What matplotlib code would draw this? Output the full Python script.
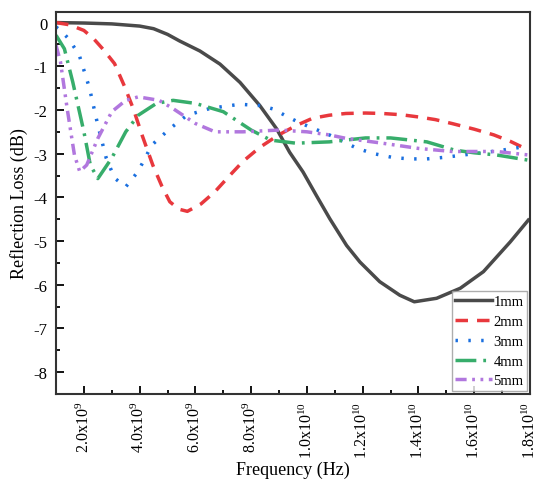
import matplotlib
matplotlib.use("Agg")
import matplotlib.pyplot as plt
import numpy as np
from matplotlib.ticker import MultipleLocator, FixedLocator

plt.rcParams['font.family'] = ['Liberation Serif', 'DejaVu Serif']
plt.rcParams['mathtext.fontset'] = 'custom'
plt.rcParams['mathtext.rm'] = 'Liberation Serif'
plt.rcParams['mathtext.it'] = 'Liberation Serif:italic'
plt.rcParams['axes.unicode_minus'] = False

# Frequency in GHz
f1 = [1.0, 2.0, 3.0, 4.0, 4.5, 5.0, 5.43, 6.16, 6.88, 7.6, 8.31, 8.91, 9.38, 9.86, 10.34,
      10.82, 11.42, 11.9, 12.61, 13.33, 13.85, 14.65, 15.5, 16.33, 17.29, 17.94]
rl1 = [0.0, -0.01, -0.03, -0.08, -0.14, -0.27, -0.42, -0.65, -0.95, -1.37, -1.90, -2.43,
       -2.97, -3.42, -3.96, -4.49, -5.10, -5.48, -5.93, -6.24, -6.39, -6.31, -6.08, -5.70,
       -5.02, -4.52]

f2 = [1.0, 1.48, 2.0, 2.35, 2.7, 3.1, 3.45, 3.77, 4.1, 4.47, 4.8, 5.08, 5.4, 5.71, 6.2,
      6.7, 7.2, 7.7, 8.3, 8.96, 9.6, 10.2, 10.8, 11.4, 12.1, 12.7, 13.4, 14.0, 14.6, 15.2,
      16.0, 16.7, 17.3, 17.95]
rl2 = [0.0, -0.05, -0.18, -0.37, -0.62, -0.94, -1.45, -1.97, -2.6, -3.26, -3.75, -4.1, -4.27,
       -4.32, -4.15, -3.87, -3.52, -3.18, -2.86, -2.58, -2.36, -2.19, -2.12, -2.08, -2.07, -2.08,
       -2.11, -2.16, -2.22, -2.31, -2.44, -2.57, -2.72, -2.92]

f3 = [1.0, 1.2, 1.45, 1.83, 2.2, 2.5, 2.8, 3.1, 3.5, 3.94, 4.44, 5.1, 5.7, 6.5, 7.0, 7.6,
      8.35, 8.8, 9.2, 9.6, 10.1, 10.7, 11.2, 11.8, 12.4, 13.1, 13.7, 14.3, 15.0, 15.6,
      16.3, 17.0, 17.6, 17.95]
rl3 = [-0.1, -0.2, -0.37, -0.74, -1.5, -2.35, -3.1, -3.56, -3.76, -3.41, -2.8, -2.42, -2.12,
       -1.97, -1.92, -1.87, -1.9, -1.98, -2.12, -2.25, -2.39, -2.54, -2.69, -2.88, -3.0, -3.09,
       -3.12, -3.12, -3.08, -3.03, -2.98, -2.92, -2.86, -2.85]

f4 = [1.0, 1.3, 1.6, 2.0, 2.23, 2.5, 3.0, 3.5, 3.95, 4.6, 5.2, 6.0, 7.0, 8.0, 8.7, 9.6,
      10.8, 12.1, 13.0, 14.3, 15.3, 16.0, 16.8, 17.95]
rl4 = [-0.29, -0.6, -1.36, -2.5, -3.26, -3.57, -3.1, -2.5, -2.12, -1.85, -1.78, -1.85, -2.04,
       -2.46, -2.69, -2.76, -2.73, -2.64, -2.64, -2.73, -2.92, -2.98, -3.03, -3.15]

f5 = [1.0, 1.16, 1.4, 1.66, 1.85, 2.1, 2.5, 3.0, 3.5, 3.95, 4.7, 5.2, 6.0, 6.7, 7.7, 9.0,
      10.0, 10.8, 11.4, 12.7, 14.0, 15.2, 16.8, 17.95]
rl5 = [-0.52, -0.9, -1.97, -3.03, -3.41, -3.26, -2.65, -2.04, -1.78, -1.7, -1.78, -1.97,
       -2.31, -2.5, -2.5, -2.46, -2.5, -2.57, -2.65, -2.76, -2.88, -2.95, -2.95, -3.03]

labels = ['1mm', '2mm', '3mm', '4mm', '5mm']
colors = ['#4a4a4a', '#e8383d', '#1a6fdf', '#37ad6b', '#b177de']
dashes = [None, (3.6, 2.6), (0.7, 3.0), (6.0, 2.0, 0.8, 2.0), (3.2, 1.6, 0.8, 1.6, 0.8, 1.6)]

xtick_vals = [2e9, 4e9, 6e9, 8e9, 1e10, 1.2e10, 1.4e10, 1.6e10, 1.8e10]
xtick_labels = [r'2.0x10$^{9}$', r'4.0x10$^{9}$', r'6.0x10$^{9}$', r'8.0x10$^{9}$',
                r'1.0x10$^{10}$', r'1.2x10$^{10}$', r'1.4x10$^{10}$', r'1.6x10$^{10}$',
                r'1.8x10$^{10}$']

fig = plt.figure(figsize=(5.45, 4.85), dpi=100)
ax = fig.add_axes([0.1028, 0.1856, 0.8697, 0.7883])

series = [(f1, rl1), (f2, rl2), (f3, rl3), (f4, rl4), (f5, rl5)]
for (f, r), lab, c, d in zip(series, labels, colors, dashes):
    x = np.array(f) * 1e9
    line, = ax.plot(x, r, color=c, lw=2.5, label=lab)
    if d is not None:
        line.set_dashes(d)

ax.set_xlim(1e9, 1.8e10)
ax.set_ylim(-8.5, 0.25)
ax.xaxis.set_major_locator(FixedLocator(xtick_vals))
ax.set_xticklabels(xtick_labels, rotation=90, fontsize=11.5)
ax.xaxis.set_minor_locator(MultipleLocator(1e9))
ax.set_yticks(range(-8, 1))
ax.set_yticklabels([str(v) for v in range(-8, 1)], fontsize=12)
ax.yaxis.set_minor_locator(MultipleLocator(0.5))
ax.tick_params(which='both', direction='in', width=1.3, top=False, right=False)
ax.tick_params(axis='y', which='both', pad=6)
ax.tick_params(axis='x', which='both', pad=5)
ax.tick_params(which='major', length=6)
ax.tick_params(which='minor', length=3)
for s in ax.spines.values():
    s.set_linewidth(1.5)
    s.set_color('#333333')

ax.set_xlabel('Frequency (Hz)', fontsize=13, labelpad=2)
ax.set_ylabel('Reflection Loss (dB)', fontsize=13, labelpad=4)

leg = ax.legend(loc='lower right', fontsize=10.5, frameon=True, fancybox=False,
                edgecolor='#999999', borderpad=0.25, labelspacing=0.45,
                handlelength=2.5, handletextpad=0.1, borderaxespad=0.2,
                bbox_to_anchor=(1.0, 0.0))
leg.get_frame().set_linewidth(1.0)

fig.savefig('out.png', dpi=100)
